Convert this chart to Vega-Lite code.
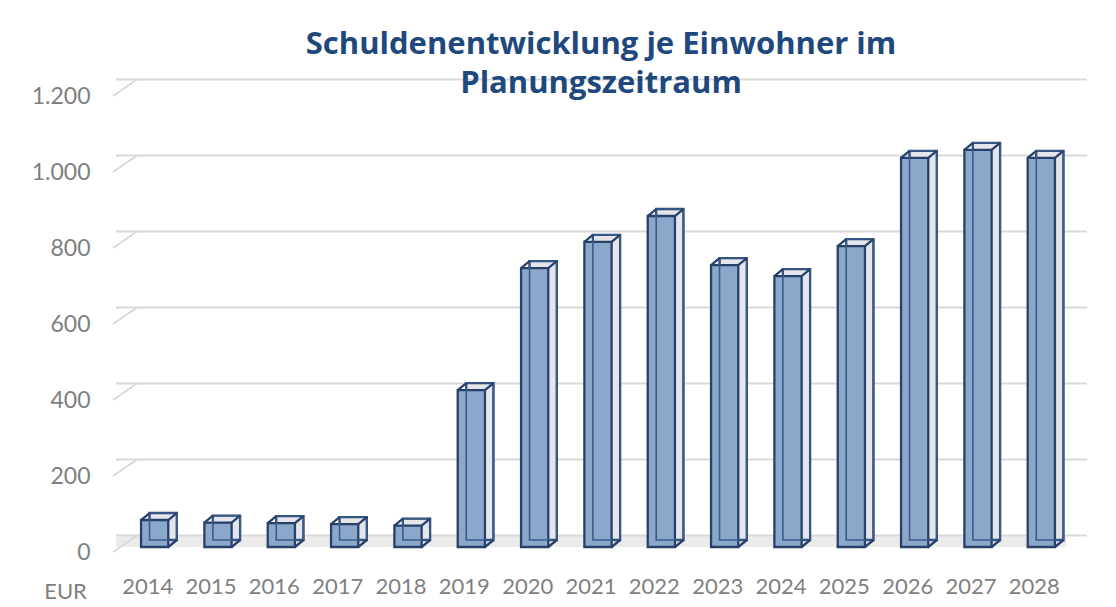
{
  "$schema": "https://vega.github.io/schema/vega-lite/v6.json",
  "width": 950,
  "height": 456,
  "autosize": {"type": "none"},
  "padding": {"left": 116, "top": 91, "right": 50, "bottom": 60},
  "background": "white",
  "title": {
    "text": ["Schuldenentwicklung je Einwohner im", "Planungszeitraum"],
    "font": "Open Sans",
    "fontWeight": "bold",
    "fontSize": 31,
    "color": "#1f497d",
    "lineHeight": 39,
    "anchor": "middle",
    "dx": 10,
    "offset": 0,
    "baseline": "alphabetic",
    "dy": 45
  },
  "datasets": {
    "debt": [
      {"year": "2014", "value": 71},
      {"year": "2015", "value": 64},
      {"year": "2016", "value": 63},
      {"year": "2017", "value": 60},
      {"year": "2018", "value": 56},
      {"year": "2019", "value": 413},
      {"year": "2020", "value": 734},
      {"year": "2021", "value": 803},
      {"year": "2022", "value": 871},
      {"year": "2023", "value": 742},
      {"year": "2024", "value": 713},
      {"year": "2025", "value": 792},
      {"year": "2026", "value": 1024},
      {"year": "2027", "value": 1045},
      {"year": "2028", "value": 1024}
    ],
    "grid": [{"v": 0}, {"v": 200}, {"v": 400}, {"v": 600}, {"v": 800}, {"v": 1000}, {"v": 1200}]
  },
  "layer": [
    {
      "data": {"values": [{}]},
      "mark": {"type": "rect", "color": "#ebebeb", "x2Offset": 12},
      "encoding": {
        "y": {"datum": 0, "type": "quantitative", "title": "EUR"},
        "y2": {"datum": 31}
      }
    },
    {
      "data": {"name": "grid"},
      "mark": {"type": "rule", "color": "#d9d9d9", "strokeWidth": 2, "yOffset": -11.5, "xOffset": 21, "x2Offset": 23},
      "encoding": {
        "y": {"field": "v", "type": "quantitative", "title": "EUR"}
      }
    },
    {
      "data": {"name": "grid"},
      "mark": {"type": "rule", "color": "#d9d9d9", "strokeWidth": 2, "xOffset": -34.7, "x2Offset": -10.7, "yOffset": 5, "y2Offset": -11.5},
      "encoding": {
        "x": {"datum": "2014", "type": "nominal", "title": null},
        "x2": {"datum": "2014"},
        "y": {"field": "v", "type": "quantitative", "title": "EUR"},
        "y2": {"field": "v"}
      }
    },
    {
      "data": {"name": "debt"},
      "mark": {"type": "bar", "fill": "#e4e6eb", "stroke": "#27416a", "strokeWidth": 2.3, "width": {"band": 0.43}, "xOffset": 15.5, "yOffset": -7, "y2Offset": -7},
      "encoding": {
        "x": {"field": "year", "type": "nominal", "title": null},
        "y": {"field": "value", "type": "quantitative", "title": "EUR"}
      }
    },
    {
      "data": {"name": "debt"},
      "mark": {"type": "bar", "fill": "#8ba7c9", "stroke": "#27416a", "strokeWidth": 2.3, "width": {"band": 0.43}, "xOffset": 7},
      "encoding": {
        "x": {"field": "year", "type": "nominal", "title": null},
        "y": {
          "field": "value", "type": "quantitative", "title": "EUR",
          "scale": {"domain": [0, 1200], "nice": false},
          "axis": {
            "values": [0, 200, 400, 600, 800, 1000, 1200],
            "labelExpr": "replace(format(datum.value, ',d'), ',', '.')"
          }
        }
      }
    },
    {
      "data": {"name": "debt"},
      "mark": {"type": "bar", "fill": "#ffffff", "fillOpacity": 0, "stroke": "#3a5c8c", "strokeWidth": 1.6, "width": {"band": 0.43}, "xOffset": 15.5, "yOffset": -7, "y2Offset": -7},
      "encoding": {
        "x": {"field": "year", "type": "nominal", "title": null},
        "y": {"field": "value", "type": "quantitative", "title": "EUR"}
      }
    },
    {
      "data": {"name": "debt"},
      "mark": {"type": "rule", "color": "#27416a", "strokeWidth": 2.3, "xOffset": -6.6, "x2Offset": 1.9, "y2Offset": -7},
      "encoding": {
        "x": {"field": "year", "type": "nominal", "title": null},
        "x2": {"field": "year"},
        "y": {"field": "value", "type": "quantitative", "title": "EUR"},
        "y2": {"field": "value"}
      }
    },
    {
      "data": {"name": "debt"},
      "mark": {"type": "rule", "color": "#27416a", "strokeWidth": 2.3, "xOffset": 20.6, "x2Offset": 29.1, "y2Offset": -7},
      "encoding": {
        "x": {"field": "year", "type": "nominal", "title": null},
        "x2": {"field": "year"},
        "y": {"field": "value", "type": "quantitative", "title": "EUR"},
        "y2": {"field": "value"}
      }
    },
    {
      "data": {"name": "debt"},
      "mark": {"type": "rule", "color": "#27416a", "strokeWidth": 2.3, "xOffset": 20.6, "x2Offset": 29.1, "y2Offset": -7},
      "encoding": {
        "x": {"field": "year", "type": "nominal", "title": null},
        "x2": {"field": "year"},
        "y": {"datum": 0, "type": "quantitative", "title": "EUR"},
        "y2": {"datum": 0}
      }
    }
  ],
  "resolve": {"scale": {"x": "shared", "y": "shared"}},
  "config": {
    "view": {"stroke": null},
    "font": "Lato",
    "scale": {"bandPaddingInner": 0, "bandPaddingOuter": 0},
    "axisX": {
      "domain": false, "ticks": false, "grid": false,
      "labelFont": "Lato", "labelFontSize": 22, "labelColor": "#7f7f7f",
      "labelPadding": 46, "labelBaseline": "alphabetic", "labelAngle": 0
    },
    "axisY": {
      "domain": false, "ticks": false, "grid": false,
      "labelFont": "Lato", "labelFontSize": 23, "labelColor": "#7f7f7f",
      "labelPadding": 26, "labelOffset": 5,
      "titleAngle": 0, "titleX": -51, "titleY": 507, "titleAlign": "center",
      "titleBaseline": "alphabetic", "titleFont": "Lato", "titleFontSize": 22,
      "titleColor": "#7f7f7f", "titleFontWeight": "normal"
    }
  }
}
